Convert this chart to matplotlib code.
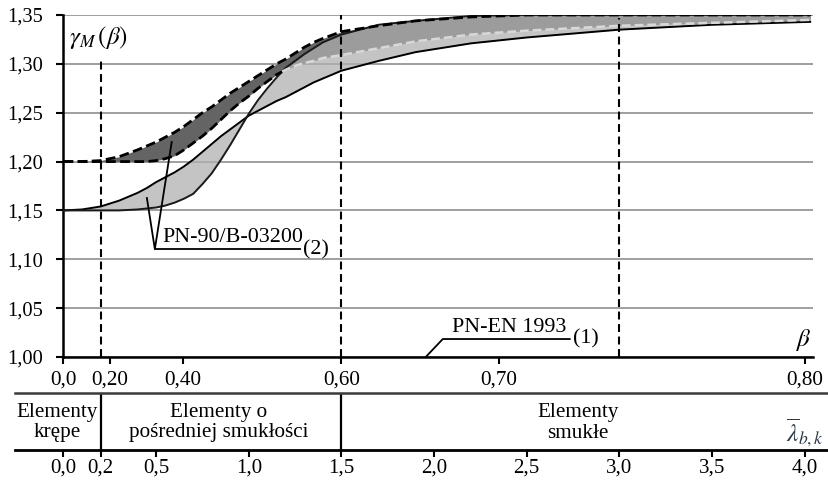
import numpy as np
import matplotlib
matplotlib.use('Agg')
import matplotlib.pyplot as plt
from matplotlib.lines import Line2D

plt.rcParams['font.family'] = ['Liberation Serif', 'DejaVu Serif']
plt.rcParams['mathtext.fontset'] = 'stix'

# ---------------- data ----------------
lam = [0.0, 0.1, 0.2, 0.3, 0.4, 0.45, 0.5, 0.55, 0.6, 0.65, 0.7, 0.75, 0.8, 0.85,
       0.9, 0.95, 1.0, 1.05, 1.1, 1.15, 1.2, 1.25, 1.3, 1.35, 1.4, 1.5, 1.7, 1.9,
       2.2, 2.5, 3.0, 3.5, 4.03]
# PN-90/B-03200 band starting at 1.20 (dashed edges)
gamma_120_upper = [1.200, 1.200, 1.201, 1.205, 1.212, 1.216, 1.220, 1.225, 1.230, 1.236,
                   1.243, 1.250, 1.256, 1.263, 1.270, 1.276, 1.282, 1.288, 1.294, 1.300,
                   1.305, 1.311, 1.317, 1.322, 1.326, 1.333, 1.339, 1.344, 1.348, 1.350,
                   1.350, 1.350, 1.350]
gamma_120_lower = [1.200, 1.200, 1.200, 1.200, 1.200, 1.200, 1.201, 1.203, 1.206, 1.212,
                   1.219, 1.226, 1.234, 1.243, 1.252, 1.260, 1.267, 1.275, 1.282, 1.289,
                   1.294, 1.298, 1.301, 1.303, 1.306, 1.309, 1.316, 1.323, 1.330, 1.334,
                   1.339, 1.342, 1.345]
# PN-90/B-03200 band starting at 1.15 (solid edges)
gamma_115_a = [1.150, 1.151, 1.154, 1.160, 1.168, 1.173, 1.179, 1.184, 1.189, 1.195,
               1.202, 1.210, 1.218, 1.226, 1.233, 1.240, 1.247, 1.252, 1.257, 1.262,
               1.266, 1.271, 1.276, 1.281, 1.285, 1.293, 1.303, 1.312, 1.321, 1.327,
               1.335, 1.340, 1.343]
gamma_115_b = [1.150, 1.150, 1.150, 1.150, 1.151, 1.152, 1.153, 1.155, 1.158, 1.162,
               1.167, 1.177, 1.188, 1.202, 1.217, 1.233, 1.249, 1.263, 1.275, 1.286,
               1.296, 1.303, 1.310, 1.316, 1.322, 1.330, 1.340, 1.344, 1.349, 1.350,
               1.350, 1.350, 1.350]

beta_labels = ['0,0', '0,20', '0,40', '0,60', '0,70', '0,80']
beta_pos = [0.0, 0.25, 0.645, 1.5, 2.35, 4.0]
lam_ticks = [0.0, 0.2, 0.5, 1.0, 1.5, 2.0, 2.5, 3.0, 3.5, 4.0]
lam_labels = ['0,0', '0,2', '0,5', '1,0', '1,5', '2,0', '2,5', '3,0', '3,5', '4,0']
y_ticks = [1.00, 1.05, 1.10, 1.15, 1.20, 1.25, 1.30, 1.35]
y_labels = ['1,00', '1,05', '1,10', '1,15', '1,20', '1,25', '1,30', '1,35']
ref_x = [0.2, 1.5, 3.0]
ref_top = [1.303, 1.350, 1.347]
class_bounds = [0.2, 1.5]

lam_a = np.array(lam)
A = np.array(gamma_120_upper); B = np.array(gamma_120_lower)
C = np.array(gamma_115_a); D = np.array(gamma_115_b)

W, H = 829, 482
fig = plt.figure(figsize=(W / 100, H / 100), dpi=100)
FS = 15.2

ax = fig.add_axes([63.5 / W, (H - 357) / H, (813 - 63.5) / W, (357 - 15) / H])
ax.set_xlim(0, 4.045)
ax.set_ylim(1.0, 1.35)

# fills
ax.fill_between(lam_a, B, A, color='#646464', lw=0, zorder=1)
ax.fill_between(lam_a, C, D, color='#b0b0b0', alpha=0.74, lw=0, zorder=2)

# split lower dashed line where it enters the light band
diff = B - D
i = int(np.argmax(diff < 0))
t = diff[i - 1] / (diff[i - 1] - diff[i])
xc = lam_a[i - 1] + t * (lam_a[i] - lam_a[i - 1])
yc = B[i - 1] + t * (B[i] - B[i - 1])
xb1 = np.r_[lam_a[:i], xc]; yb1 = np.r_[B[:i], yc]
xb2 = np.r_[xc, lam_a[i:]]; yb2 = np.r_[yc, B[i:]]

dash = (0, (3.5, 1.6))
ax.plot(lam_a, A, color='black', lw=2.0, ls=dash, zorder=5)
ax.plot(xb1, yb1, color='black', lw=2.0, ls=dash, zorder=5)
ax.plot(xb2, yb2, color='#d8d8d8', lw=1.8, ls=dash, zorder=5)
ax.plot(lam_a, C, color='black', lw=1.4, zorder=4)
ax.plot(lam_a, D, color='#1a1a1a', lw=1.4, zorder=4)

for xv, top in zip(ref_x, ref_top):
    ax.plot([xv, xv], [1.0, top], color='black', lw=1.5, ls=(0, (3.8, 2.2)), zorder=6)

# axes styling
for s in ['top', 'right']:
    ax.spines[s].set_visible(False)
ax.spines['left'].set_linewidth(1.8)
ax.spines['bottom'].set_linewidth(1.8)
ax.set_yticks(y_ticks, y_labels)
ax.set_xticks(beta_pos, beta_labels)
ax.tick_params(axis='y', direction='out', length=5, width=1.5, pad=10, labelsize=14.8)
ax.tick_params(axis='x', direction='out', length=5, width=1.5, pad=5, labelsize=15.2)
ax.yaxis.grid(True, color='#8f8f8f', lw=1.2, zorder=0)
ax.set_axisbelow(True)

# labels inside plot
ax.text(0.03, 1.3265, r'$\gamma_M\,(\beta)$', fontsize=18, va='center', ha='left')
ax.text(3.99, 1.0174, r'$\beta$', fontsize=18, va='center', ha='center')

# PN-90 annotation
ax.plot([0.450, 0.493, 0.584], [1.1627, 1.1105, 1.2200], color='black', lw=1.3, zorder=7)
ax.plot([0.493, 1.275], [1.1105, 1.1105], color='black', lw=1.3, zorder=7)
ax.text(0.536, 1.1125, 'PN-90/B-03200', fontsize=FS + 0.6, va='bottom', ha='left')
ax.text(1.291, 1.110, '(2)', fontsize=FS + 0.6, va='center', ha='left')

# PN-EN annotation
ax.plot([1.955, 2.047, 2.732], [1.000, 1.0184, 1.0184], color='black', lw=1.3, zorder=7,
        clip_on=False)
ax.text(2.096, 1.0205, 'PN-EN 1993', fontsize=FS + 0.6, va='bottom', ha='left')
ax.text(2.749, 1.0190, '(1)', fontsize=FS + 0.6, va='center', ha='left')

# ---------------- lower table ----------------
ax2 = fig.add_axes([63.5 / W, (H - 450) / H, (813 - 63.5) / W, (450 - 393) / H])
ax2.set_xlim(0, 4.045)
ax2.set_ylim(0, 1)
ax2.patch.set_visible(False)
for s in ax2.spines.values():
    s.set_visible(False)
ax2.set_yticks([])
ax2.set_xticks(lam_ticks, lam_labels)
ax2.tick_params(axis='x', direction='out', length=5, width=1.5, pad=1, labelsize=15)
for xv in class_bounds:
    ax2.axvline(xv, color='black', lw=1.6)

fig.add_artist(Line2D([15 / W, 1.0], [(H - 393) / H] * 2, color='#3a3a3a', lw=1.8))
fig.add_artist(Line2D([15 / W, 1.0], [(H - 450) / H] * 2, color='black', lw=2.0))

y1 = (450 - 412) / 57
y2 = (450 - 433) / 57
ax2.text(-0.036, y1, 'Elementy', fontsize=FS, ha='center', va='center')
ax2.text(-0.036, y2, 'krępe', fontsize=FS, ha='center', va='center')
ax2.text(0.838, y1, 'Elementy o', fontsize=FS, ha='center', va='center')
ax2.text(0.838, y2, 'pośredniej smukłości', fontsize=FS, ha='center', va='center')
ax2.text(2.776, y1, 'Elementy', fontsize=FS, ha='center', va='center')
ax2.text(2.776, y2, 'smukłe', fontsize=FS, ha='center', va='center')
ax2.text(4.0, y2, r'$\overline{\lambda}_{b,k}$', fontsize=18, ha='center', va='center',
         color='#2c3a48')

fig.savefig('out.png', dpi=100)
